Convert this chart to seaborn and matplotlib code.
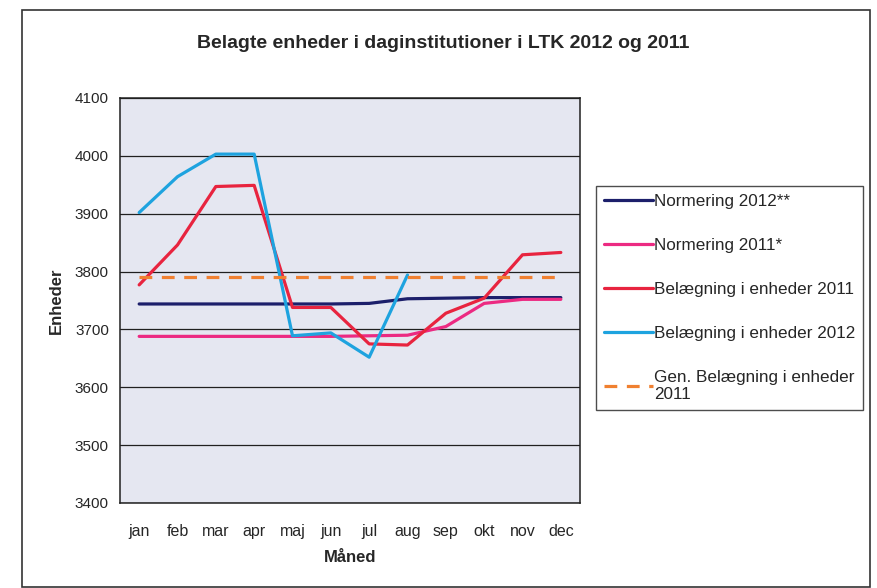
import matplotlib
matplotlib.use("Agg")
import matplotlib.pyplot as plt
import seaborn as sns
import numpy as np
import pandas as pd
from matplotlib.patches import Rectangle

months = ["jan", "feb", "mar", "apr", "maj", "jun", "jul", "aug", "sep", "okt", "nov", "dec"]
normering_2012 = [3744, 3744, 3744, 3744, 3744, 3744, 3745, 3753, 3754, 3755, 3755, 3755]
normering_2011 = [3688, 3688, 3688, 3688, 3688, 3688, 3689, 3690, 3705, 3745, 3752, 3752]
belaegning_2011 = [3777, 3846, 3947, 3949, 3738, 3738, 3675, 3673, 3728, 3754, 3829, 3833]
belaegning_2012 = [3902, 3964, 4003, 4003, 3689, 3694, 3652, 3794]
gen_belaegning_2011 = [3791] * 12

series = [
    ("Normering 2012**", normering_2012, "#1c1f6b", "-"),
    ("Normering 2011*", normering_2011, "#ec2a82", "-"),
    ("Belægning i enheder 2011", belaegning_2011, "#e8243f", "-"),
    ("Belægning i enheder 2012", belaegning_2012, "#1ea3df", "-"),
    ("Gen. Belægning i enheder\n2011", gen_belaegning_2011, "#f08030", "--"),
]

sns.set_style("white")
plt.rcParams['font.family'] = ['Liberation Sans', 'DejaVu Sans']

fig = plt.figure(figsize=(8.77, 5.88), dpi=100)
fig.patch.set_facecolor("white")
ax = fig.add_axes([120 / 877, 1 - 503 / 588, 460 / 877, 405 / 588])
ax.set_facecolor("#e5e7f1")

for label, vals, color, ls in series:
    df = pd.DataFrame({"x": np.arange(len(vals)), "y": vals})
    sns.lineplot(data=df, x="x", y="y", ax=ax, color=color, linewidth=2.3, label=label)
    if ls == "--":
        ax.lines[-1].set_dashes((4, 3))

ax.set_ylim(3400, 4100)
ax.set_yticks(np.arange(3400, 4101, 100))
ax.set_xlim(-0.5, 11.5)
ax.set_xticks(np.arange(12))
ax.set_xticklabels(months)
ax.set_xticks(np.arange(-0.5, 12, 1), minor=True)
ax.tick_params(axis="x", which="major", length=0, pad=15, labelsize=11.5)
ax.tick_params(axis="x", which="minor", length=5, width=1, color="black", direction="out")
ax.tick_params(axis="y", length=5, width=1, color="black", direction="out", pad=3, labelsize=11)
ax.yaxis.grid(True, color="#202020", linewidth=0.9)
ax.set_axisbelow(True)
for s in ax.spines.values():
    s.set_color("#202020")
    s.set_linewidth(1.1)

ax.set_xlabel("Måned", fontsize=12, fontweight="bold", labelpad=8)
ax.set_ylabel("Enheder", fontsize=12, fontweight="bold", labelpad=8)

fig.text(443 / 877, 1 - 43 / 588, "Belagte enheder i daginstitutioner i LTK 2012 og 2011",
         ha="center", va="center", fontsize=14, fontweight="bold")

handles, labels = ax.get_legend_handles_labels()
ax.get_legend().remove()
leg = fig.legend(handles, labels, loc="upper left",
                 bbox_to_anchor=(596 / 877, 1 - 186 / 588),
                 frameon=True, fancybox=False, edgecolor="#202020",
                 fontsize=12.3, handlelength=2.9, handletextpad=0.05,
                 labelspacing=1.7, borderpad=0.45, borderaxespad=0)
leg.get_frame().set_linewidth(1.0)

fig.patches.append(Rectangle((22 / 877, 0.002), 848 / 877, 1 - 10 / 588 - 0.002,
                             transform=fig.transFigure, fill=False,
                             edgecolor="#333333", linewidth=1.2))

fig.savefig("out.png", dpi=100)
